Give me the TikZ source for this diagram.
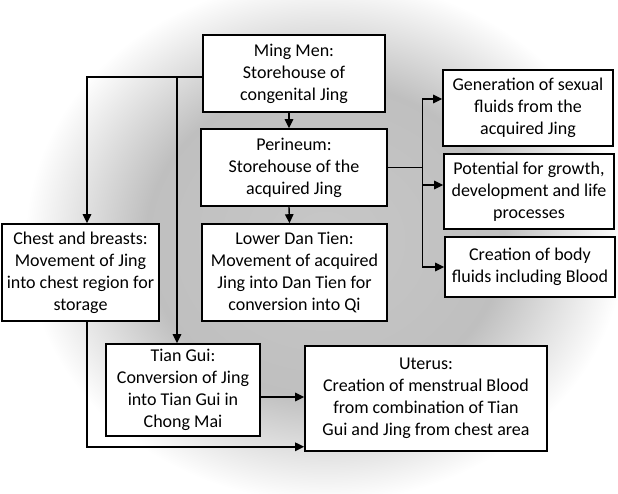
\documentclass[tikz,border=0pt]{standalone}
\usepackage{fontspec}
\setmainfont{Carlito}
\usetikzlibrary{arrows.meta,calc,positioning}
\pgfdeclareradialshading{jingglow}{\pgfpoint{0bp}{0bp}}{color(0bp)=(black!22); color(15bp)=(black!25); color(25bp)=(white); color(50bp)=(white)}
\tikzset{
 jingbox/.style={draw,fill=white,line width=1.6pt,align=center,inner sep=0pt,
  font=\fontsize{18}{22}\selectfont},
 flow/.style={-{Triangle[length=9pt,width=8.5pt]},line width=1.4pt},
}

\begin{document}
\begin{tikzpicture}[x=1pt,y=-1pt,line cap=rect]
\useasboundingbox (0,0) rectangle (618,494);
\begin{scope}
\clip (0,0) rectangle (618,494);
\shade[shading=jingglow] (325,240) ellipse [x radius=300,y radius=262];
\end{scope}
% centre column
\node[jingbox,minimum width=182,minimum height=77] (mingmen) at (294,73.5)
 {Ming Men:\\Storehouse of\\congenital Jing};
\node[jingbox,minimum width=186,minimum height=77] (perineum) at (294,167.5)
 {Perineum:\\Storehouse of the\\acquired Jing};
\node[jingbox,minimum width=185,minimum height=97] (dantien) at (294.5,272.5)
 {Lower Dan Tien:\\Movement of acquired\\Jing into Dan Tien for\\conversion into Qi};
% left side
\node[jingbox,minimum width=157,minimum height=97] (chest) at (80.5,272.5)
 {Chest and breasts:\\Movement of Jing\\into chest region for\\storage};
\node[jingbox,minimum width=154,minimum height=92] (tiangui) at (183,390)
 {Tian Gui:\\Conversion of Jing\\into Tian Gui in\\Chong Mai};
\node[jingbox,minimum width=242,minimum height=105] (uterus) at (426,398.5)
 {Uterus:\\Creation of menstrual Blood\\from combination of Tian\\Gui and Jing from chest area};
% right column
\node[jingbox,minimum width=170,minimum height=76] (sexual) at (528,108)
 {Generation of sexual\\fluids from the\\acquired Jing};
\node[jingbox,minimum width=170,minimum height=75] (growth) at (529,191.5)
 {Potential for growth,\\development and life\\processes};
\node[jingbox,minimum width=170,minimum height=60] (bodyfl) at (530,267)
 {Creation of body\\fluids including Blood};
% connectors
\draw[flow] ([xshift=-5pt]mingmen.south) -- ([xshift=-5pt]perineum.north);
\draw[flow] ([xshift=-5pt]perineum.south) -- ([xshift=-5pt]dantien.north);
\coordinate (mmout) at ([yshift=-3.5pt]mingmen.west);
\draw[flow] (mmout) -| ([xshift=6.5pt]chest.north);
\draw[flow] (mmout) -| ([xshift=-6pt]tiangui.north);
\coordinate (fork) at ([xshift=34.5pt]perineum.east);
\draw[line width=1.4pt] (perineum.east) -- (fork);
\draw[flow] (fork) |- ([yshift=9pt]sexual.west);
\draw[flow] (fork) |- ([yshift=6.5pt]growth.west);
\draw[flow] (fork) |- (bodyfl.west);
\draw[flow] ([xshift=6.5pt]chest.south) |- ([yshift=5pt]uterus.south west);
\coordinate (tgout) at ([yshift=-7pt]tiangui.east);
\draw[flow] (tgout) -- (tgout -| uterus.west);
\end{tikzpicture}
\end{document}
